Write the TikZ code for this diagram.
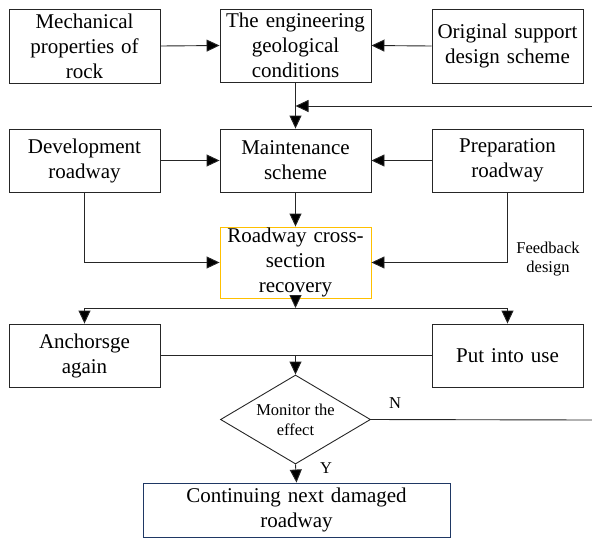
\documentclass[tikz,border=0pt]{standalone}
\usepackage{fontspec}
\setmainfont{Liberation Serif}
\usetikzlibrary{arrows.meta,shapes.geometric,calc}
\definecolor{lineclr}{HTML}{262626}
\definecolor{orangeclr}{HTML}{FFC000}
\definecolor{navyclr}{HTML}{1F3864}
\tikzset{
  box/.style={draw=lineclr,line width=0.9pt,rectangle,inner sep=0pt,align=center,
    minimum width=151pt,text width=147pt,font=\fontsize{21}{25}\selectfont},
  conn/.style={draw=lineclr,line width=0.9pt},
  arr/.style={conn,-{Triangle[length=13pt,width=12pt,fill=black]}},
  smalltxt/.style={font=\fontsize{16.5}{19.5}\selectfont,align=center,inner sep=0pt},
}
\begin{document}
\begin{tikzpicture}[x=1pt,y=-1pt]
\useasboundingbox (0,0) rectangle (592,547);
% row 1
\node[box,minimum height=74pt] (mech) at (84.5,46) {Mechanical\\properties of\\rock};
\node[box,minimum height=73pt] (eng) at (295.5,45.5) {The engineering\\geological\\conditions};
\node[box,minimum height=74pt] (orig) at (507.5,46) {Original support\\design scheme};
% row 2
\node[box,minimum height=63pt] (dev) at (84.5,160.5) {Development\\roadway};
\node[box,minimum height=63pt] (maint) at (295.5,160.5) {Maintenance\\scheme};
\node[box,minimum height=63pt] (prep) at (507.5,160.5) {Preparation\\roadway};
% row 3
\node[box,draw=orangeclr,minimum height=71pt] (road) at (295.5,262.5) {Roadway cross-\\section\\recovery};
\node[smalltxt] (fb) at (548,259) {Feedback\\design};
% row 4
\node[box,minimum height=63pt] (anch) at (84.5,355.5) {Anchorsge\\again};
\node[box,minimum height=63pt] (put) at (507.5,355.5) {Put into use};
% diamond
\node[draw=lineclr,line width=0.9pt,diamond,inner sep=0pt,minimum width=150pt,minimum height=89pt] (dia) at (295.5,419.5) {};
\node[smalltxt] (diatxt) at (295.5,420) {Monitor the\\effect};
\node[smalltxt] (nlab) at (395,403) {N};
\node[smalltxt] (ylab) at (326,468) {Y};
% bottom
\node[box,draw=navyclr,minimum width=307pt,text width=300pt,minimum height=54pt] (cont) at (296.5,510) {Continuing next damaged\\roadway};
% coordinates
\coordinate (fbtop) at (592,106);
\coordinate (fbbot) at (592,420);
\coordinate (split) at (295.5,308);
\coordinate (join) at (295.5,355.5);
% connectors
\draw[arr] (mech.east) -- (eng.west);
\draw[arr] (orig.west) -- (eng.east);
\draw[arr] (eng.south) -- (maint.north);
\draw[arr] (fbtop) -- (fbtop -| eng.south);
\draw[arr] (dev.east) -- (maint.west);
\draw[arr] (prep.west) -- (maint.east);
\draw[arr] (maint.south) -- (road.north);
\draw[arr] (dev.south) |- (road.west);
\draw[arr] (prep.south) |- (road.east);
\draw[arr] (road.south) -- (split);
\draw[arr] (split) -| (anch.north);
\draw[arr] (split) -| (put.north);
\draw[conn] (anch.east) -- (join);
\draw[conn] (put.west) -- (join);
\draw[arr] (join) -- (dia.north);
\draw[conn] (dia.east) -- (fbbot);
\draw[arr] (dia.south) -- (cont.north);
\end{tikzpicture}
\end{document}
